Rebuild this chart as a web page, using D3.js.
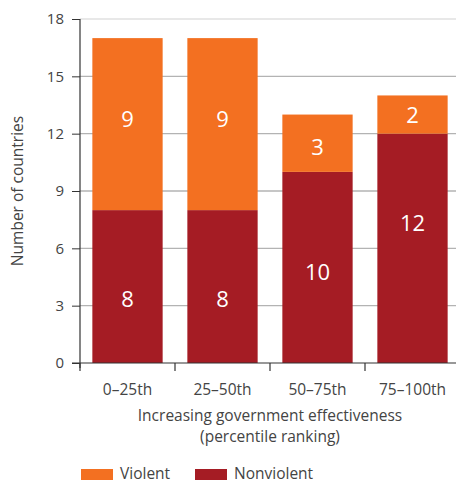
<!DOCTYPE html>
<html><head><meta charset="utf-8">
<script src="https://cdn.jsdelivr.net/npm/d3@7"></script>
<style>body{margin:0;background:#fff}text{font-family:"Open Sans",sans-serif}</style>
</head><body>
<svg id="c" width="456" height="484"></svg>
<script>
const categories = ["0–25th","25–50th","50–75th","75–100th"];
const nonviolent = [8,8,10,12];
const violent = [9,9,3,2];
// label anchor positions in data units (as placed in the original)
const nonviolentLabelAt = [3.35,3.35,4.76,7.33];
const violentLabelAt = [12.77,12.77,11.3,12.98];
const yTicks = [0,3,6,9,12,15,18];
const seriesNames = ["Violent","Nonviolent"];
const colors = {Violent:"#F37021", Nonviolent:"#A51C24"};

const svg = d3.select("#c");
const m = {l:80, r:460, t:19, b:363};
const x = d3.scaleBand().domain(categories).range([m.l, m.r]).paddingInner(0.26).paddingOuter(0.13);
const xb = d3.scaleLinear().domain([0,4]).range([m.l, m.r]);
const y = d3.scaleLinear().domain([0,18]).range([m.b, m.t]);

svg.append("g").selectAll("line").data(yTicks.filter(d=>d>0)).join("line")
  .attr("x1", m.l).attr("x2", 456).attr("y1", d=>y(d)).attr("y2", d=>y(d))
  .attr("stroke", d=> d===18 ? "#e0e0e0" : "#b3b3b3").attr("stroke-width",1.3);

const data = categories.map((c,i)=>({c, nv:nonviolent[i], v:violent[i], nl:nonviolentLabelAt[i], vl:violentLabelAt[i]}));
const g = svg.append("g");
data.forEach(d=>{
  g.append("rect").attr("x", x(d.c)).attr("width", x.bandwidth())
    .attr("y", y(d.nv)).attr("height", y(0)-y(d.nv)).attr("fill", colors.Nonviolent);
  g.append("rect").attr("x", x(d.c)).attr("width", x.bandwidth())
    .attr("y", y(d.nv+d.v)).attr("height", y(d.nv)-y(d.nv+d.v)).attr("fill", colors.Violent);
  g.append("text").attr("x", x(d.c)+x.bandwidth()/2).attr("y", y(d.nl)).attr("dy","0.36em")
    .attr("text-anchor","middle").attr("fill","#fff").attr("font-size",22).text(d.nv);
  g.append("text").attr("x", x(d.c)+x.bandwidth()/2).attr("y", y(d.vl)).attr("dy","0.36em")
    .attr("text-anchor","middle").attr("fill","#fff").attr("font-size",22).text(d.v);
});

const ya = svg.append("g").attr("transform",`translate(${m.l},0)`)
  .call(d3.axisLeft(y).tickValues(yTicks).tickSize(8).tickPadding(8));
ya.select(".domain").remove();
ya.selectAll(".tick line").attr("stroke","#333");
ya.selectAll("text").attr("font-size",15).attr("fill","#444").attr("font-family","Open Sans");
svg.append("line").attr("x1",m.l).attr("x2",m.l).attr("y1",m.t).attr("y2",m.b+5).attr("stroke","#333").attr("stroke-width",1.2);

svg.append("line").attr("x1",m.l-8).attr("x2",456).attr("y1",m.b).attr("y2",m.b).attr("stroke","#333").attr("stroke-width",1.2);
svg.append("g").selectAll("line").data([0,1,2,3]).join("line")
  .attr("x1",d=>xb(d)).attr("x2",d=>xb(d)).attr("y1",m.b).attr("y2",m.b+8).attr("stroke","#333").attr("stroke-width",1.2);
svg.append("g").selectAll("text").data(categories).join("text")
  .attr("x",d=>x(d)+x.bandwidth()/2).attr("y",395)
  .attr("text-anchor","middle").attr("font-size",15.5).attr("fill","#444").text(d=>d);

svg.append("text").attr("x",270).attr("y",421).attr("text-anchor","middle")
  .attr("font-size",15.5).attr("fill","#444").text("Increasing government effectiveness");
svg.append("text").attr("x",270).attr("y",442).attr("text-anchor","middle")
  .attr("font-size",15.5).attr("fill","#444").text("(percentile ranking)");

svg.append("text").attr("transform","translate(18,191) rotate(-90)").attr("dy","0.35em")
  .attr("text-anchor","middle").attr("font-size",15.5).attr("fill","#444").text("Number of countries");

const lx = [81,195];
seriesNames.forEach((s,i)=>{
  svg.append("rect").attr("x",lx[i]).attr("y",469).attr("width",32).attr("height",11).attr("fill",colors[s]);
  svg.append("text").attr("x",lx[i]+39).attr("y",479).attr("font-size",15.5).attr("fill","#444").text(s);
});
</script>
</body></html>
